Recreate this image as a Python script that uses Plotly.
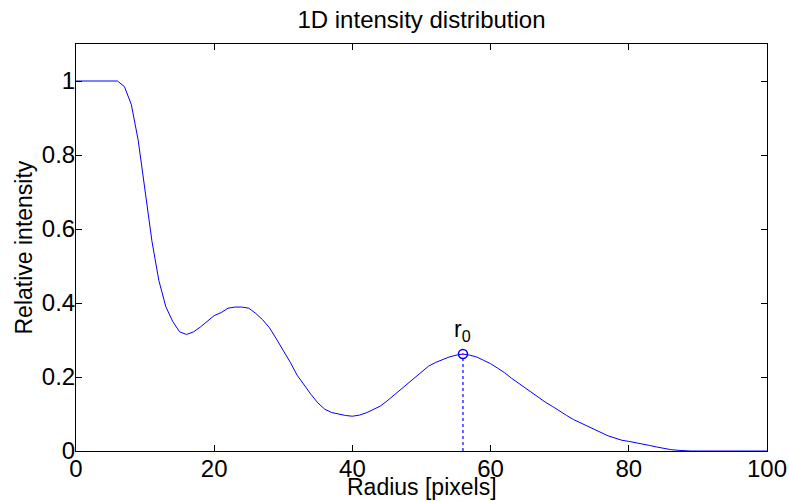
import plotly.graph_objects as go

radius = [0, 6, 7, 8, 9, 10, 11, 12, 13, 14, 15, 16, 17, 18, 19, 20, 21, 22, 23, 24,
          25, 26, 27, 28, 29, 30, 31, 32, 33, 34, 35, 36, 37, 38, 39, 40, 41, 42, 43,
          44, 45, 46, 47, 48, 49, 50, 51, 52, 53, 54, 55, 56, 57, 58, 59, 60, 61, 62,
          63, 64, 65, 66, 67, 68, 69, 70, 71, 72, 73, 74, 75, 76, 77, 78, 79, 80, 81,
          82, 83, 84, 85, 86, 87, 88, 89, 100]
intensity = [1.0, 1.0, 0.985, 0.937, 0.84, 0.705, 0.566, 0.46, 0.39, 0.35, 0.322, 0.315,
             0.322, 0.335, 0.35, 0.366, 0.374, 0.386, 0.389, 0.389, 0.386, 0.372, 0.355,
             0.333, 0.303, 0.273, 0.24, 0.205, 0.178, 0.153, 0.13, 0.113, 0.104, 0.099,
             0.096, 0.094, 0.097, 0.103, 0.111, 0.121, 0.135, 0.151, 0.166, 0.182, 0.197,
             0.213, 0.229, 0.239, 0.247, 0.254, 0.259, 0.262, 0.259, 0.254, 0.245, 0.236,
             0.224, 0.212, 0.197, 0.184, 0.17, 0.157, 0.143, 0.131, 0.12, 0.107, 0.096,
             0.085, 0.076, 0.066, 0.057, 0.049, 0.041, 0.035, 0.029, 0.026, 0.023, 0.02,
             0.015, 0.011, 0.007, 0.004, 0.002, 0.0005, 0.0, 0.0]
r0 = 56
r0_value = 0.262
x_ticks = [0, 20, 40, 60, 80, 100]
y_ticks = [0, 0.2, 0.4, 0.6, 0.8, 1]
y_tick_labels = ["0", "0.2", "0.4", "0.6", "0.8", "1"]

FONT = "Liberation Sans, Arial, Helvetica, sans-serif"
BLUE = "#0000ff"

fig = go.Figure()
fig.add_trace(go.Scatter(x=radius, y=intensity, mode="lines",
                         line=dict(color=BLUE, width=1), hoverinfo="skip"))
fig.add_trace(go.Scatter(x=[r0, r0], y=[0, r0_value], mode="lines",
                         line=dict(color=BLUE, width=1.2, dash="dot"), hoverinfo="skip"))
fig.add_trace(go.Scatter(x=[r0], y=[r0_value], mode="markers",
                         marker=dict(symbol="circle-open", size=9, color=BLUE,
                                     line=dict(width=1.5, color=BLUE))))
fig.add_trace(go.Scatter(x=[r0], y=[r0_value], mode="markers",
                         marker=dict(symbol="circle", size=2, color="#ff00ff")))

fig.add_annotation(x=r0, y=r0_value, xref="x", yref="y", text="r<sub>0</sub>",
                   showarrow=False, yshift=24, xshift=0,
                   font=dict(family=FONT, size=23, color="black"))

# axis titles as annotations for exact placement
fig.add_annotation(x=0.5, y=-(487 - 451) / 406, xref="paper", yref="paper",
                   text="Radius [pixels]", showarrow=False, xanchor="center", yanchor="middle",
                   font=dict(family=FONT, size=23, color="black"))
fig.add_annotation(x=(23 - 76) / 691, y=0.5, xref="paper", yref="paper",
                   text="Relative intensity", showarrow=False, textangle=-90,
                   xanchor="center", yanchor="middle",
                   font=dict(family=FONT, size=23, color="black"))

axis_common = dict(showline=True, linecolor="black", linewidth=1, mirror="ticks",
                   ticks="inside", ticklen=6, tickcolor="black", tickwidth=1,
                   showgrid=False, zeroline=False, automargin=False,
                   tickfont=dict(family=FONT, size=24, color="black"))

fig.update_layout(
    width=789, height=501,
    margin=dict(l=76, r=22, t=44, b=50),
    paper_bgcolor="white", plot_bgcolor="white",
    showlegend=False,
    title=dict(text="1D intensity distribution", x=0.5, xref="paper", xanchor="center",
               y=1 - 20 / 501, yref="container", yanchor="middle",
               font=dict(family=FONT, size=24, color="black")),
    xaxis=dict(range=[0, 100], tickvals=x_ticks, ticklabelstandoff=-4, **axis_common),
    yaxis=dict(range=[0, 1.1], tickvals=y_ticks, ticktext=y_tick_labels,
               ticklabelstandoff=-5, **axis_common),
)

fig.write_html("out.html", config={"displayModeBar": False},
               post_script="document.body.style.margin='0';document.body.style.overflow='hidden';")
